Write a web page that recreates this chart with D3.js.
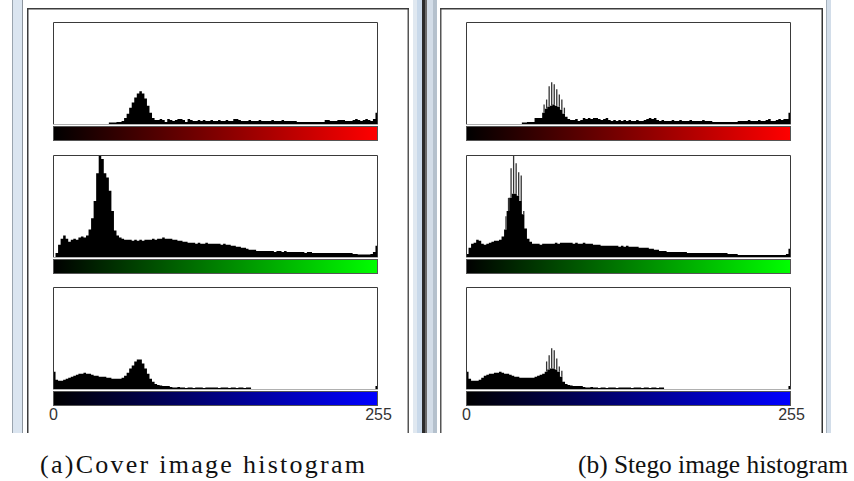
<!DOCTYPE html>
<html>
<head>
<meta charset="utf-8">
<script src="https://cdn.jsdelivr.net/npm/d3@7"></script>
<style>
  body { margin: 0; background: #fff; }
  svg { display: block; }
</style>
</head>
<body>
<div id="chart"></div>
<script>
// Histogram heights in % of panel height, 128 bins (2 grey levels each)
const redCover = [
  0,0,0,0,0,0,0,0,0,0,0,0,0,0,0,0,
  0,0,0,0,0,0,1.5,1.5,1.5,2,2,3,6,10,16,21,
  26,30,32,30,25,18,11,6,4,4,5,4,2,5,4,3,
  4,5,5,4,2,5,4,3,3,4,3,4,3,3,4,3,
  3,4,3,3,4,3,3,5,5,4,3,3,3,4,3,3,
  3,4,3,3,3,3,4,3,3,3,4,3,3,3,3,3,
  2,2,2,2,2,2,2,2,2,2,2,4,4,3,3,3,
  4,4,4,3,3,3,4,5,4,3,4,5,4,3,5,11
];
const greenCover = [
  0,4,12,18,21,18,15,17,18,17,19,20,19,21,27,38,
  55,82,100,96,82,78,65,45,26,21,19,18,17,17,17,16,
  17,16,17,16,17,17,17,18,17,18,18,19,18,18,18,17,
  17,16,16,15,15,14,14,14,13,14,13,13,14,13,13,13,
  13,13,12,13,12,12,11,11,10,10,9,9,8,7,7,7,
  6,6,6,6,6,6,6,5,6,6,5,6,5,5,5,5,
  5,5,5,4,5,5,4,4,4,4,4,4,4,4,4,4,
  4,4,4,4,4,4,3,3,2.5,2.5,2.5,2.5,2.5,3,5,11
];
const blueCover = [
  17,9,8,8,9,10,11,12,13,14,15,15,16,15,15,14,
  13,13,12,12,12,11,11,10,10,10,10,11,13,16,20,23,
  27,29,29,25,20,15,10,7,5,4,3.5,3,3,3,2,1.5,
  1.5,2,1.5,1.5,1,1.5,1.5,1,1.5,1.5,1.5,1,1.5,1.5,1.5,1.5,
  1.5,1,1.5,1.5,1.5,1,1.5,1.5,1,1.5,1.5,1,1.5,1.5,0,0,
  0,0,0,0,0,0,0,0,0,0,0,0,0,0,0,0,
  0,0,0,0,0,0,0,0,0,0,0,0,0,0,0,0,
  0,0,0,0,0,0,0,0,0,0,0,0,0,0,0,3
];
const redStego = [
  0,0,0,0,0,0,0,0,0,0,0,0,0,0,0,0,
  0,0,0,0,0,0,1.5,1.5,2,2,2,6,6,6,11,15,
  17,18,19,18,17,14,10,7,5,4,4,5,3,4,6,5,
  6,5,6,6,5,4,5,6,4,3,4,3,4,3,4,3,
  4,3,3,4,3,3,4,5,6,5,6,4,3,4,3,3,
  3,4,3,3,4,3,3,3,4,3,3,3,3,4,3,3,
  3,2,2,2,2,2,2,2,2,2,2,3,3,3,3,4,
  3,3,3,4,3,3,4,5,3,3,4,5,4,5,5,11
];
const greenStego = [
  3,9,13,14,17,16,13,12,13,14,15,16,16,17,20,27,
  45,58,62,62,60,55,42,28,18,15,13,13,13,12,13,13,
  13,13,13,14,13,14,14,14,14,14,13,14,13,13,14,13,
  13,13,12,12,12,11,11,11,11,11,11,11,10,11,10,11,
  10,10,10,10,9,9,9,9,8,8,7,7,6,6,6,5,
  5,5,5,5,5,5,5,4,4,4,4,4,4,4,4,4,
  4,4,4,4,4,4,4,3,3,3,3,2,2,2,2,2,
  2,2,2,2,2,2,2,2,2,2,2,2,2,2,3,8
];
const blueStego = [
  17,10,8,8,8,9,11,13,14,15,15,16,16,17,16,15,
  15,14,13,12,12,11,11,11,11,11,11,12,13,14,15,17,
  19,20,20,19,17,12,7,5,4,3.5,3,3,3,3,2,1.5,
  1.5,2,1.5,1.5,1,1.5,1.5,1,1.5,1.5,1.5,1,1.5,1.5,1.5,1.5,
  1.5,1,1.5,1.5,1.5,1,1.5,1.5,1,1.5,1.5,1,1.5,1.5,0,0,
  0,0,0,0,0,0,0,0,0,0,0,0,0,0,0,0,
  0,0,0,0,0,0,0,0,0,0,0,0,0,0,0,0,
  0,0,0,0,0,0,0,0,0,0,0,0,0,0,0,3
];

// Single-level spikes of the stego histograms (grey level, height %)
const redSpikeLevels = [61, 63, 65, 67, 69, 71, 73, 75, 77];
const redSpikeHeights = [19, 24, 37, 41, 39, 34, 29, 24, 16];
const greenSpikeLevels = [31, 33, 35, 37, 39, 41, 43, 45];
const greenSpikeHeights = [40, 58, 87, 100, 92, 83, 80, 45];
const blueSpikeLevels = [63, 65, 67, 69, 71, 73, 75];
const blueSpikeHeights = [27, 33, 40, 38, 30, 22, 18];

const channels = ['red', 'green', 'blue'];
const channelColors = ['#ff0000', '#00ff00', '#0000ff'];
const axisLabels = [0, 255];
const captions = ['(a)Cover image histogram', '(b) Stego image histogram'];

const panels = [
  { bins: [redCover, greenCover, blueCover], spikes: [null, null, null] },
  { bins: [redStego, greenStego, blueStego],
    spikes: [[redSpikeLevels, redSpikeHeights], [greenSpikeLevels, greenSpikeHeights], [blueSpikeLevels, blueSpikeHeights]] }
];

const width = 854, height = 481;
const plotW = 325, plotH = 102, barH = 15;
const colX = [53, 466];
const rowY = [22, 155, 287];
const frameBottom = 433;

const svg = d3.select('#chart').append('svg')
  .attr('width', width)
  .attr('height', height);

// gradients for the colour bars
const defs = svg.append('defs');
channels.forEach((c, i) => {
  const g = defs.append('linearGradient').attr('id', 'grad-' + c);
  g.append('stop').attr('offset', '0%').attr('stop-color', '#000');
  g.append('stop').attr('offset', '100%').attr('stop-color', channelColors[i]);
});

// window chrome (screenshot borders)
const chrome = svg.append('g');
const strip = (x, w, fill, y0 = 0) => chrome.append('rect')
  .attr('x', x).attr('y', y0).attr('width', w).attr('height', frameBottom - y0).attr('fill', fill);
strip(12, 1, '#9aa4ae');
strip(13, 9, '#dbe5f0');
strip(22, 1, '#8d959e');
strip(27, 1.5, '#3c3c3c', 8);
strip(407.5, 1.5, '#555', 8);
strip(413, 4, '#e0e8f0');
strip(417, 5, '#c9d9ea');
strip(422, 3, '#2a2a2a');
strip(425, 2, '#6b6b6b');
strip(427, 6, '#d3dde8');
strip(433, 4, '#b5c1cd');
strip(440, 1.5, '#555', 8);
strip(821.5, 1.5, '#333', 8);
strip(826, 1, '#a5b0bb');
strip(827, 4, '#d2dde9');
chrome.append('rect').attr('x', 27).attr('y', 8).attr('width', 382).attr('height', 1.5).attr('fill', '#3c3c3c');
chrome.append('rect').attr('x', 440).attr('y', 8).attr('width', 383).attr('height', 1.5).attr('fill', '#3c3c3c');

// scales
const x = d3.scaleLinear().domain([0, 256]).range([0, plotW]);
const xAxisScale = d3.scaleLinear().domain([0, 255]).range([0, plotW]);
const y = d3.scaleLinear().domain([0, 100]).range([plotH, 0]).clamp(true);

const area = d3.area()
  .x(d => x(d.level))
  .y0(plotH)
  .y1(d => y(d.value))
  .curve(d3.curveStepAfter);

panels.forEach((panel, col) => {
  channels.forEach((c, row) => {
    const g = svg.append('g')
      .attr('transform', `translate(${colX[col]},${rowY[row]})`);

    g.append('rect')
      .attr('width', plotW).attr('height', plotH)
      .attr('fill', '#fff');

    const bins = panel.bins[row];
    const pts = bins.map((v, i) => ({ level: i * 2, value: v }));
    pts.push({ level: 256, value: bins[bins.length - 1] });

    g.append('path')
      .datum(pts)
      .attr('d', area)
      .attr('fill', '#000');

    // spikes rise above the solid body as thin grey lines
    const sp = panel.spikes[row];
    if (sp) {
      g.selectAll('line.spike')
        .data(sp[0].map((lv, i) => ({ level: lv, value: sp[1][i], base: bins[Math.floor(lv / 2)] })))
        .enter().append('line')
        .attr('class', 'spike')
        .attr('x1', d => x(d.level + 0.5)).attr('x2', d => x(d.level + 0.5))
        .attr('y1', d => y(d.base)).attr('y2', d => y(d.value))
        .attr('stroke', '#333')
        .attr('stroke-width', 1.3);
    }

    // box border: dark top/left/right, light bottom
    g.append('path')
      .attr('d', `M0.5,${plotH} V0.5 H${plotW - 0.5} V${plotH}`)
      .attr('fill', 'none').attr('stroke', '#3a3a3a').attr('stroke-width', 1);
    g.append('line')
      .attr('x1', 0).attr('x2', plotW).attr('y1', plotH + 0.5).attr('y2', plotH + 0.5)
      .attr('stroke', '#b0b0b0');

    // colour bar
    g.append('rect')
      .attr('x', 0.5).attr('y', plotH + 2.5)
      .attr('width', plotW - 1).attr('height', barH - 1)
      .attr('fill', `url(#grad-${c})`)
      .attr('stroke', '#555');

    if (row === channels.length - 1) {
      const axis = g.append('g')
        .attr('transform', `translate(0,${plotH + 2 + barH})`)
        .call(d3.axisBottom(xAxisScale).tickValues(axisLabels).tickSize(0).tickPadding(3));
      axis.select('.domain').remove();
      axis.selectAll('text')
        .attr('font-family', 'Liberation Sans, Arial, sans-serif')
        .attr('font-size', 16)
        .attr('fill', '#333');
    }
  });
});

// captions
const capX = [40, 578];
const capW = [325, 270];
const capAdjust = ['spacing', 'spacingAndGlyphs'];
captions.forEach((t, i) => {
  svg.append('text')
    .attr('x', capX[i]).attr('y', 473)
    .attr('font-family', 'Liberation Serif, Times New Roman, serif')
    .attr('font-size', 26)
    .attr('fill', '#111')
    .attr('textLength', capW[i])
    .attr('lengthAdjust', capAdjust[i])
    .text(t);
});
</script>
</body>
</html>
